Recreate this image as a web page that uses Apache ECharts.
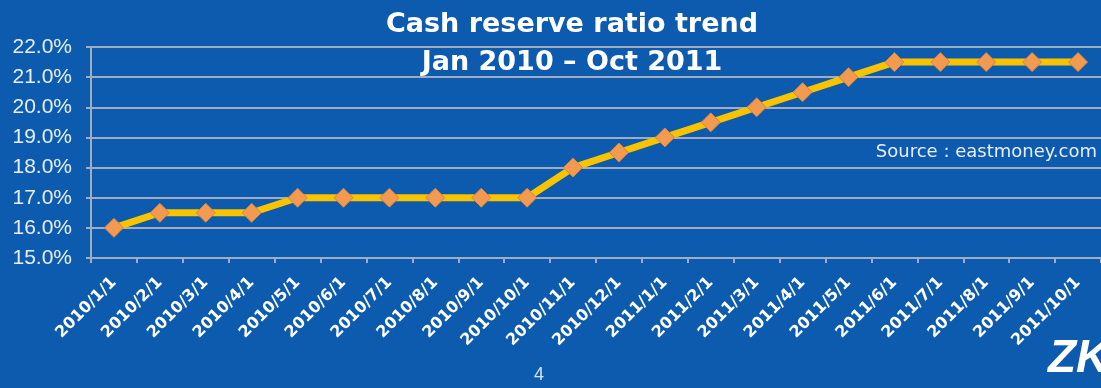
<!DOCTYPE html>
<html>
<head>
<meta charset="utf-8">
<script src="https://cdn.jsdelivr.net/npm/echarts@6/dist/echarts.min.js"></script>
<style>
  html, body { margin: 0; padding: 0; background: #0d5bae; }
  #chart { width: 1101px; height: 388px; }
</style>
</head>
<body>
<div id="chart"></div>
<script>
// Monthly reserve requirement ratio, Jan 2010 – Oct 2011 (percent)
const months = [
  '2010/1/1', '2010/2/1', '2010/3/1', '2010/4/1', '2010/5/1', '2010/6/1',
  '2010/7/1', '2010/8/1', '2010/9/1', '2010/10/1', '2010/11/1', '2010/12/1',
  '2011/1/1', '2011/2/1', '2011/3/1', '2011/4/1', '2011/5/1', '2011/6/1',
  '2011/7/1', '2011/8/1', '2011/9/1', '2011/10/1'
];
const ratio = [
  16.0, 16.5, 16.5, 16.5, 17.0, 17.0,
  17.0, 17.0, 17.0, 17.0, 18.0, 18.5,
  19.0, 19.5, 20.0, 20.5, 21.0, 21.5,
  21.5, 21.5, 21.5, 21.5
];
const yMin = 15, yMax = 22, yStep = 1;

const titleLines = ['Cash reserve ratio trend', 'Jan 2010 \u2013 Oct 2011'];
const sourceNote = 'Source : eastmoney.com';
const pageNo = '4';
const logoText = 'ZK';

const sans = 'Liberation Sans, Arial, sans-serif';
const wide = 'DejaVu Sans, sans-serif';
const gridColor = '#a3acbf';
const chart = echarts.init(document.getElementById('chart'));

chart.setOption({
  backgroundColor: '#0d5bae',
  animation: false,
  textStyle: { fontFamily: sans },
  title: {
    text: titleLines.join('\n'),
    left: 567,
    textAlign: 'center',
    top: 1,
    textStyle: {
      color: '#ffffff',
      fontSize: 27,
      fontWeight: 'bold',
      lineHeight: 38,
      fontFamily: wide
    }
  },
  grid: { left: 91, right: 0, top: 47, bottom: 130, containLabel: false },
  xAxis: {
    type: 'category',
    data: months,
    boundaryGap: true,
    axisLine: { lineStyle: { color: gridColor, width: 2 } },
    axisTick: { show: true, length: 5, alignWithLabel: false, lineStyle: { color: gridColor, width: 2 } },
    axisLabel: {
      interval: 0,
      rotate: 45,
      color: '#ffffff',
      fontSize: 16,
      fontWeight: 'bold',
      fontFamily: wide,
      margin: 22
    }
  },
  yAxis: {
    type: 'value',
    min: yMin,
    max: yMax,
    interval: yStep,
    axisLine: { show: true, lineStyle: { color: gridColor, width: 2 } },
    axisTick: { show: true, length: 5, lineStyle: { color: gridColor, width: 2 } },
    splitLine: { show: true, lineStyle: { color: gridColor, width: 2 } },
    axisLabel: {
      color: '#e8eef8',
      fontSize: 21,
      fontFamily: sans,
      margin: 19,
      formatter: v => v.toFixed(1) + '%'
    }
  },
  series: [{
    type: 'line',
    data: ratio,
    symbol: 'diamond',
    symbolSize: 19,
    lineStyle: { color: '#f8c400', width: 7 },
    itemStyle: { color: '#f29a4f', borderColor: '#d8843e', borderWidth: 1 },
    z: 3
  }],
  graphic: [
    {
      type: 'text',
      right: 4,
      top: 143,
      style: { text: sourceNote, fill: '#e8eef8', fontSize: 18, fontFamily: wide }
    },
    {
      type: 'text',
      left: 534,
      top: 366,
      style: { text: pageNo, fill: '#d6e2f2', fontSize: 18, fontFamily: sans }
    },
    {
      type: 'text',
      left: 1048,
      top: 336,
      style: { text: logoText, fill: '#ffffff', fontSize: 46, fontWeight: 900, fontStyle: 'italic', fontFamily: sans }
    }
  ]
});
</script>
</body>
</html>
